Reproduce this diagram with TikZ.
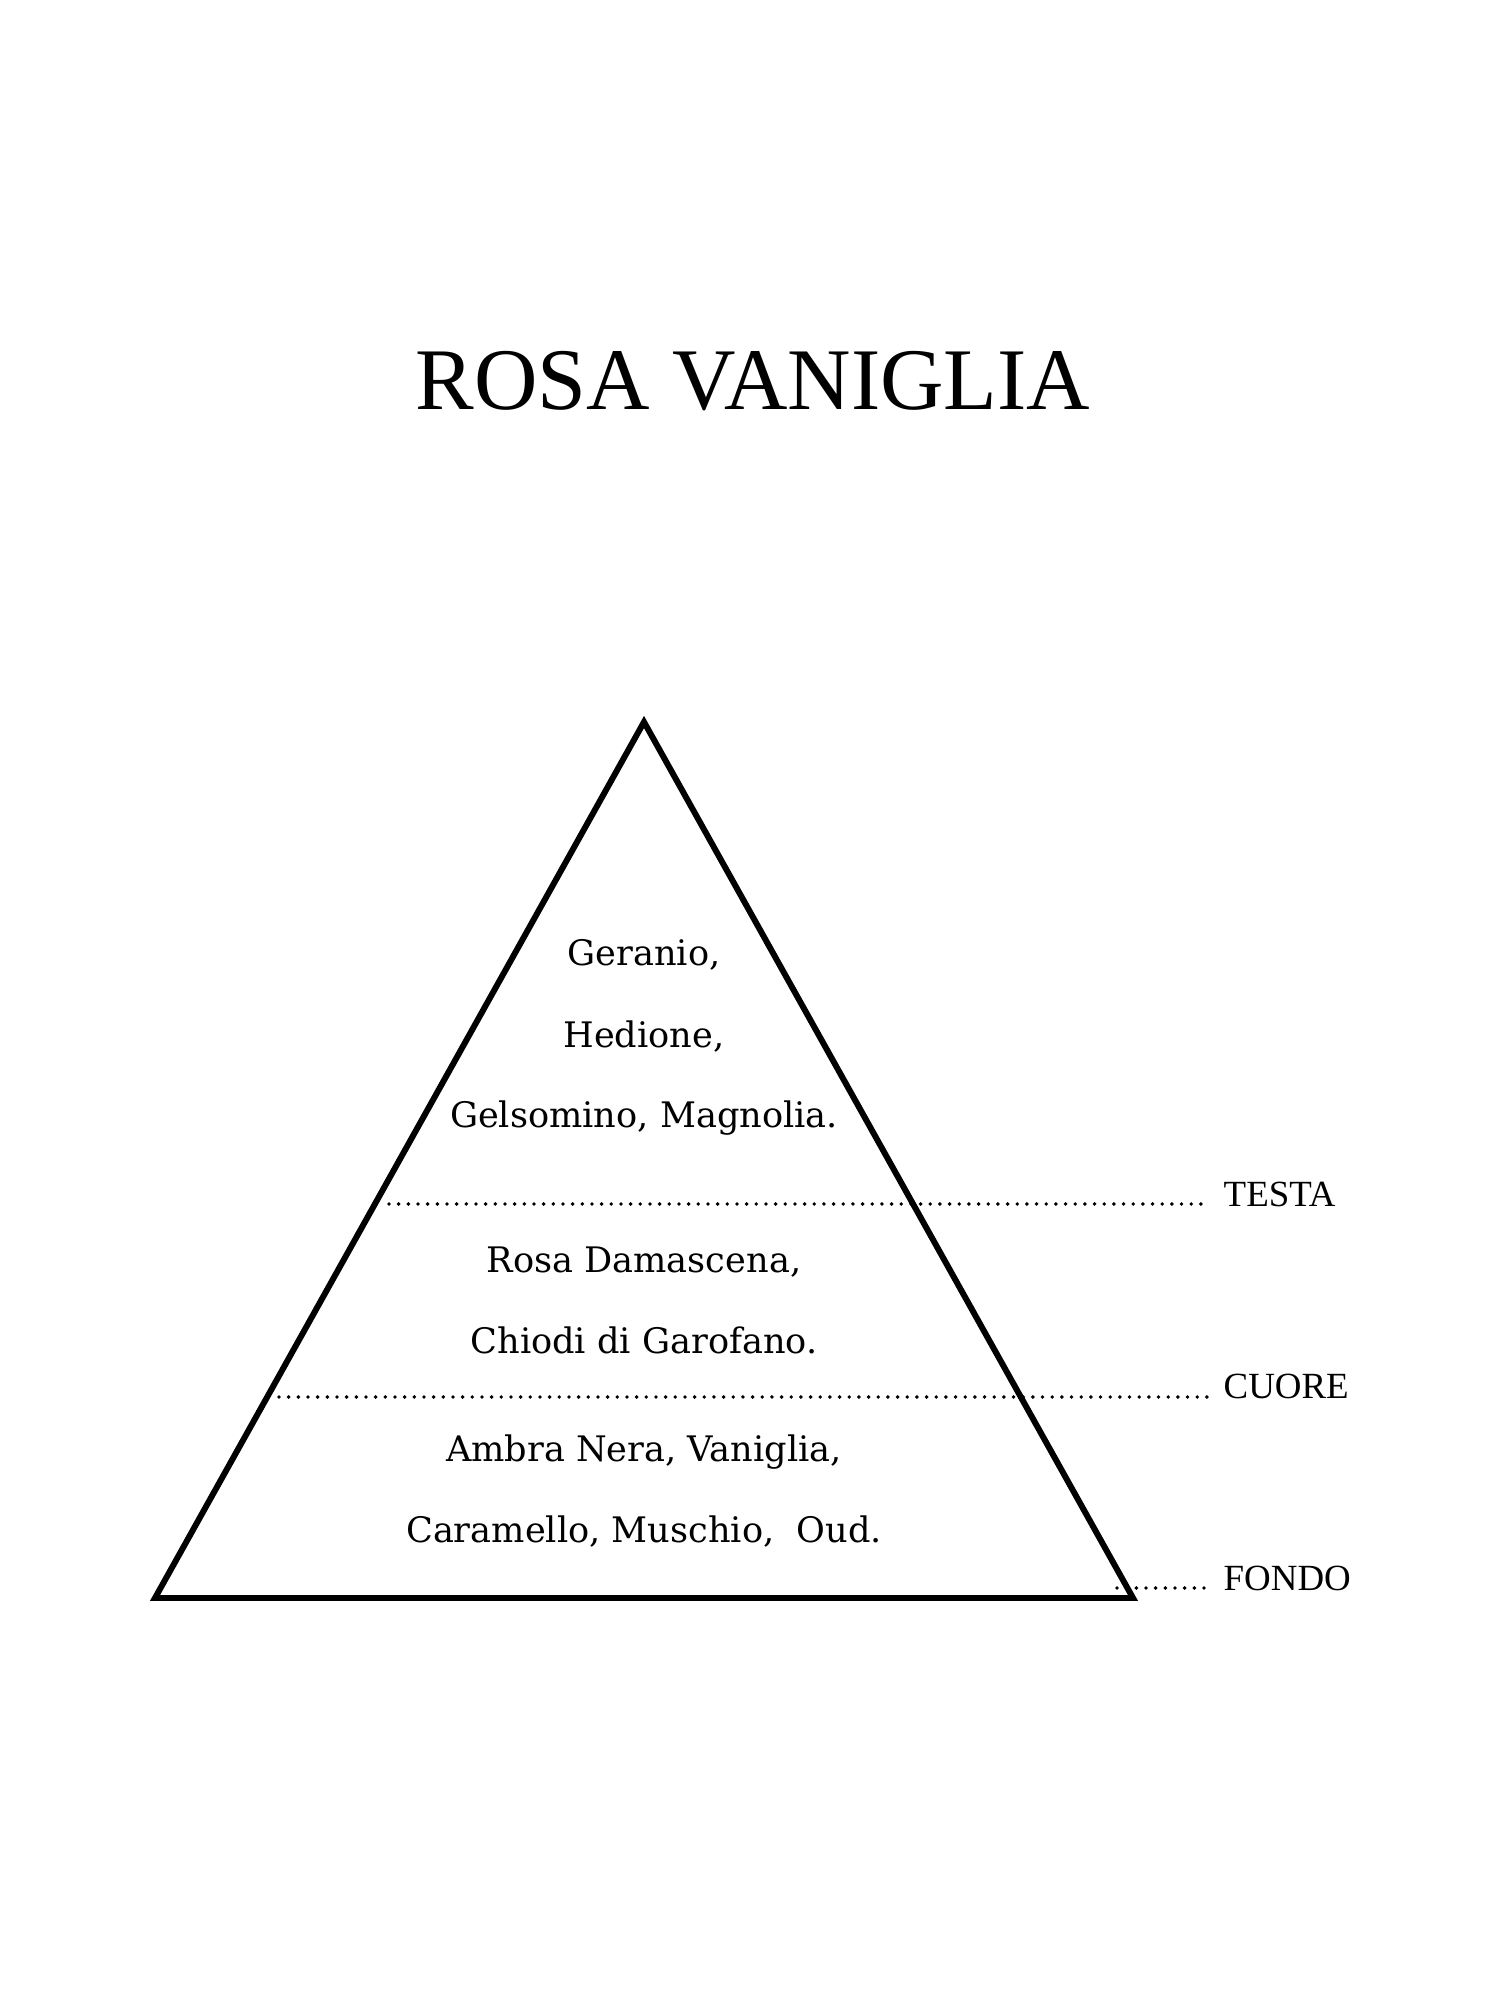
\documentclass[tikz,border=0pt]{standalone}
\usepackage{fontspec}
\setmainfont{Liberation Serif}
\newfontfamily\notefont{DejaVu Serif}
\tikzset{
	note/.style={anchor=base, inner sep=0pt, font=\notefont\fontsize{10}{12}\selectfont},
	layer/.style={anchor=base west, inner sep=0pt, font=\fontsize{10.5}{12}\selectfont},
	leader/.style={line width=1.1pt, line cap=round, dash pattern=on 0pt off 2.75pt},
}
\begin{document}
\begin{tikzpicture}
	\useasboundingbox (0,0) rectangle (15,20);
	% title
	\node[anchor=base, inner sep=0pt, font=\fontsize{25}{30}\selectfont] (title) at (7.53, 15.90) {ROSA VANIGLIA};
	% pyramid
	\coordinate (apex) at (6.44, 12.78);
	\coordinate (left) at (1.55, 4.02);
	\coordinate (right) at (11.33, 4.02);
	\draw[line width=1.7pt, line join=miter] (apex) -- (right) -- (left) -- cycle;
	% notes
	\path
	(6.44, 10.34) node[note] (geranio) {Geranio,}
	(6.44, 9.52) node[note] (hedione) {Hedione,}
	(6.44, 8.72) node[note] (gelsomino) {Gelsomino, Magnolia.}
	(6.44, 7.27) node[note] (rosa) {Rosa Damascena,}
	(6.44, 6.46) node[note] (chiodi) {Chiodi di Garofano.}
	(6.44, 5.38) node[note] (ambra) {Ambra Nera, Vaniglia,}
	(6.44, 4.57) node[note] (caramello) {Caramello, Muschio,~~Oud.}
	;
	% layers
	\path
	(12.23, 7.93) node[layer] (testa) {TESTA}
	(12.23, 6.01) node[layer] (cuore) {CUORE}
	(12.23, 4.09) node[layer] (fondo) {FONDO}
	;
	\coordinate (testa0) at (3.89, 7.96);
	\coordinate (testa1) at (12.08, 7.96);
	\coordinate (cuore0) at (2.79, 6.03);
	\coordinate (cuore1) at (12.08, 6.03);
	\coordinate (fondo0) at (11.17, 4.12);
	\coordinate (fondo1) at (12.08, 4.12);
	\draw[leader] (testa0) -- (testa1);
	\draw[leader] (cuore0) -- (cuore1);
	\draw[leader] (fondo0) -- (fondo1);
\end{tikzpicture}
\end{document}
